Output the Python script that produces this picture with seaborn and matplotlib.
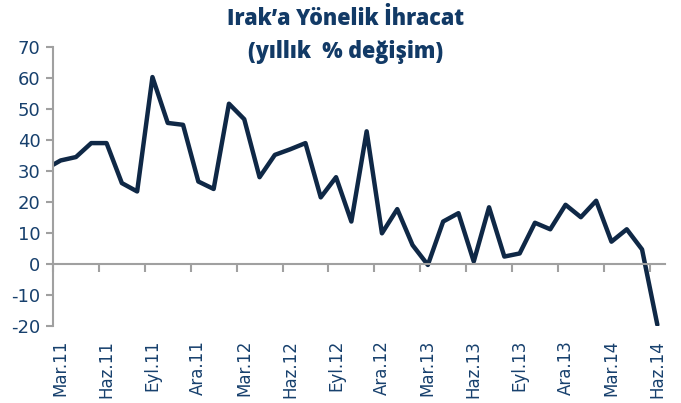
import numpy as np
import pandas as pd
import matplotlib
matplotlib.use("Agg")
import matplotlib.pyplot as plt
import seaborn as sns

# month index: 0 = Mar.11 ... 39 = Haz.14 (first point, Şub.11, is cut by the axis)
month_idx = list(range(-1, 40))
values = [30.6,
          33.4, 34.5, 39.0, 39.0, 26.1, 23.4, 60.3, 45.5, 44.9, 26.6,
          24.2, 51.7, 46.7, 28.0, 35.2, 37.0, 39.0, 21.5, 28.0, 13.7,
          42.8, 9.9, 17.7, 6.1, -0.3, 13.7, 16.4, 0.8, 18.3, 2.4,
          3.4, 13.3, 11.2, 19.1, 15.1, 20.4, 7.2, 11.2, 4.7, -19.6]
tick_labels = ["Mar.11", "Haz.11", "Eyl.11", "Ara.11", "Mar.12", "Haz.12", "Eyl.12",
               "Ara.12", "Mar.13", "Haz.13", "Eyl.13", "Ara.13", "Mar.14", "Haz.14"]
label_pos = list(range(0, 40, 3))
yticks = [-20, -10, 0, 10, 20, 30, 40, 50, 60, 70]

line_col = "#0f2846"
text_col = "#17406d"
axis_col = "#a0a0a0"

sns.set_style("white")
plt.rcParams['font.family'] = ['DejaVu Sans']
plt.rcParams['axes.unicode_minus'] = False

df = pd.DataFrame({"ay": month_idx, "deger": values})

fig = plt.figure(figsize=(6.81, 4.03), dpi=100)
ax = fig.add_axes([53/681, 1 - 326/403, 612/681, 279/403])
sns.lineplot(data=df, x="ay", y="deger", color=line_col, linewidth=3.2, ax=ax)

ax.set_xlim(-0.5, 39.5)
ax.set_ylim(-20, 70)
ax.set_xlabel("")
ax.set_ylabel("")

# axes lines
for s in ["top", "right"]:
    ax.spines[s].set_visible(False)
ax.spines["left"].set_color(axis_col)
ax.spines["left"].set_linewidth(1.5)
ax.spines["bottom"].set_position(("data", 0))
ax.spines["bottom"].set_color(axis_col)
ax.spines["bottom"].set_linewidth(1.5)

ax.set_yticks(yticks)
ax.tick_params(axis="y", direction="out", length=5, width=1.5, color=axis_col,
               labelcolor=text_col, labelsize=13, pad=4, left=True)
ax.set_xticks(np.arange(-0.5, 39.5, 3))
ax.tick_params(axis="x", direction="out", length=6, width=1.5, color=axis_col,
               labelbottom=False, bottom=True)

for p, lab in zip(label_pos, tick_labels):
    ax.text(p, -0.05, lab, transform=ax.get_xaxis_transform(), rotation=90,
            ha="center", va="top", fontsize=12, color=text_col)

title_font = dict(ha="center", va="center", fontsize=15.5, fontweight="heavy",
                  color="#123a66", family=["Open Sans", "DejaVu Sans"])
fig.text(346/681, 1 - 19/403, "Irak\u2019a Yönelik İhracat", **title_font)
fig.text(346/681, 1 - 52/403, "(yıllık  % değişim)", **title_font)

fig.savefig("out.png", dpi=100)
